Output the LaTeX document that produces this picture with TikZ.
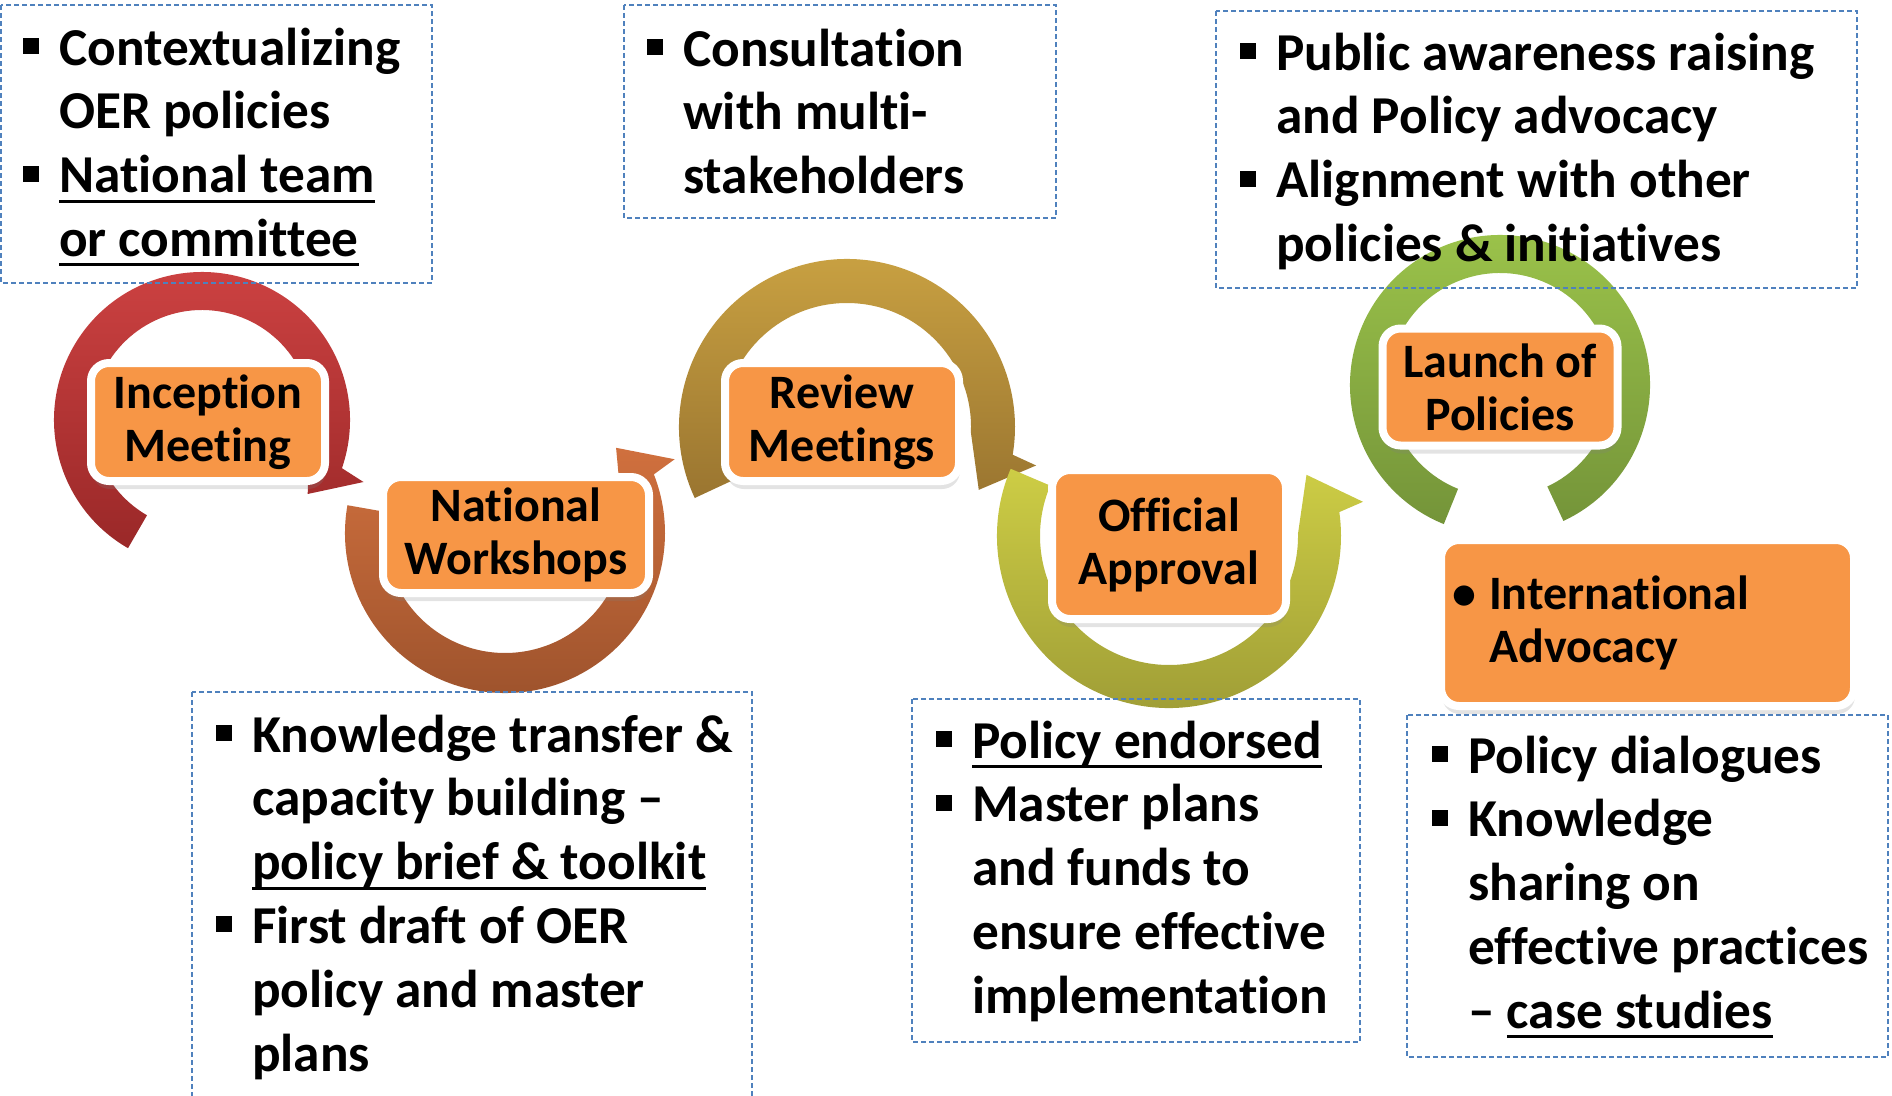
\documentclass[tikz,border=0pt]{standalone}
\usepackage{fontspec}
\setmainfont{Carlito}[Ligatures=NoCommon]
\usetikzlibrary{calc,shadows}

\definecolor{stageorange}{HTML}{F79646}
\definecolor{boxblue}{HTML}{4F81BD}
\definecolor{redtop}{HTML}{CF4343}
\definecolor{redbot}{HTML}{9A2828}
\definecolor{rusttop}{HTML}{D0703E}
\definecolor{rustbot}{HTML}{9C522C}
\definecolor{goldtop}{HTML}{CCA443}
\definecolor{goldbot}{HTML}{9A7530}
\definecolor{olivetop}{HTML}{CDCD45}
\definecolor{olivebot}{HTML}{9C9A35}
\definecolor{greentop}{HTML}{9DC54B}
\definecolor{greenbot}{HTML}{749439}

\newcommand\stagetextfont{\bfseries\fontsize{48}{53}\selectfont}
\newcommand\notetextfont{\bfseries\fontsize{53.3}{63.8}\selectfont}

% underline at a fixed depth below the baseline
\newsavebox\ulinebox
\newcommand\ulin[1]{\sbox\ulinebox{#1}\rlap{\rule[-10pt]{\wd\ulinebox}{3pt}}\usebox\ulinebox}
% square list bullet hanging to the left of the line
\newcommand\sqbul{\llap{\rule[11pt]{16pt}{16pt}\hspace{20pt}}}

% circular band with an arrowhead at its end
% #1 centre, #2 inner radius, #3 outer radius, #4 tail angle,
% #5 angle where the head starts, #6 direction (+1 ccw, -1 cw), #7/#8 colours
\newcommand\ringarrow[8]{%
  \pgfmathsetmacro\rgMid{(#2+#3)/2}%
  \pgfmathsetmacro\rgBarb{#3+25}%
  \pgfmathsetmacro\rgAngBarb{#5+2*#6}%
  \pgfmathsetmacro\rgAngTip{#5+16*#6}%
  \pgfmathsetmacro\rgAngIn{#5-7*#6}%
  \shade[top color=#7, bottom color=#8]
    ($(#1)+(#4:#3)$) arc[start angle=#4, end angle=#5, radius=#3]
    -- ($(#1)+(\rgAngBarb:\rgBarb)$)
    -- ($(#1)+(\rgAngTip:\rgMid)$)
    -- ($(#1)+(\rgAngIn:#2)$)
    arc[start angle=\rgAngIn, end angle=#4, radius=#2] -- cycle;
}

\begin{document}
\begin{tikzpicture}[x=1pt,y=1pt,
  stage/.style={rectangle, rounded corners=18pt, fill=stageorange, draw=white,
    line width=8pt, inner sep=0pt, align=center, font=\stagetextfont,
    drop shadow={shadow xshift=1pt, shadow yshift=-8pt, opacity=0.22}},
  dashbox/.style={draw=boxblue, line width=1.6pt, dash pattern=on 5pt off 3pt},
  notetext/.style={anchor=base west, inner sep=0pt, font=\notetextfont}]

\useasboundingbox (0,0) rectangle (1892,-1095);
\clip (0,0) rectangle (1892,-1095);

% ring centres
\coordinate (c1) at (202,-420);
\coordinate (c2) at (505,-533);
\coordinate (c3) at (847,-427);
\coordinate (c4) at (1169,-536);
\coordinate (c5) at (1500,-385);

% circular arrows
\ringarrow{c1}{110}{148}{240}{-19}{-1}{redtop}{redbot}
\ringarrow{c2}{120}{160}{170}{381.5}{1}{rusttop}{rustbot}
\ringarrow{c3}{124}{168}{205}{-9.5}{-1}{goldtop}{goldbot}
\ringarrow{c4}{129}{172}{157}{368}{1}{olivetop}{olivebot}
\shade[top color=greentop, bottom color=greenbot]
  ($(c5)+(-65:150)$) arc[start angle=-65, end angle=248, radius=150]
  -- ($(c5)+(248:112)$) arc[start angle=248, end angle=-65, radius=112] -- cycle;

% dashed note frames
\draw[dashbox] (1,-5) rectangle (432,-283);
\draw[dashbox] (624,-5) rectangle (1056,-218);
\draw[dashbox] (1216,-11) rectangle (1857,-288);
\draw[dashbox] (192,-692) rectangle (752,-1110);
\draw[dashbox] (912,-699) rectangle (1360,-1042);
\draw[dashbox] (1407,-715) rectangle (1888,-1057);

% note texts
\node[notetext] (t1) at (59,-65) {\vtop{%
  \hbox{\sqbul Contextualizing}
  \hbox{OER policies}
  \hbox{\sqbul\ulin{National team}}
  \hbox{\ulin{or committee}}}};
\node[notetext] (t2) at (683,-66) {\vtop{%
  \hbox{\sqbul Consultation}
  \hbox{with multi-}
  \hbox{stakeholders}}};
\node[notetext] (t3) at (1276,-70) {\vtop{%
  \hbox{\sqbul Public awareness raising}
  \hbox{and Policy advocacy}
  \hbox{\sqbul Alignment with other}
  \hbox{policies \& initiatives}}};
\node[notetext] (t4) at (252,-752) {\vtop{%
  \hbox{\sqbul Knowledge transfer \&}
  \hbox{capacity building –}
  \hbox{\ulin{policy brief \& toolkit}}
  \hbox{\sqbul First draft of OER}
  \hbox{policy and master}
  \hbox{plans}}};
\node[notetext] (t5) at (972,-758) {\vtop{%
  \hbox{\sqbul\ulin{Policy endorsed}}
  \hbox{\sqbul Master plans}
  \hbox{and funds to}
  \hbox{ensure effective}
  \hbox{implementation}}};
\node[notetext] (t6) at (1468,-773) {\vtop{%
  \hbox{\sqbul Policy dialogues}
  \hbox{\sqbul Knowledge}
  \hbox{sharing on}
  \hbox{effective practices}
  \hbox{– \ulin{case studies}}}};

% stage boxes
\node[stage, minimum width=234pt, minimum height=118pt] (n1) at (208,-422) {Inception\\Meeting};
\node[stage, minimum width=266pt, minimum height=116pt] (n2) at (516,-535) {National\\Workshops};
\node[stage, minimum width=234pt, minimum height=118pt] (n3) at (842,-422) {Review\\Meetings};
\node[stage, minimum width=234pt, minimum height=149pt] (n4) at (1169,-544.5) {Official\\Approval};
\node[stage, minimum width=235pt, minimum height=117pt] (n5) at (1500,-387) {Launch of\\Policies};
\node[stage, minimum width=413pt, minimum height=166pt] (n6) at (1647.5,-623) {};
\node[anchor=base west, inner sep=0pt, font=\stagetextfont] (n6t) at (1489,-609) {\vtop{%
  \hbox{\llap{\makebox[50pt][c]{•}}International}
  \hbox{Advocacy}}};
\end{tikzpicture}
\end{document}
